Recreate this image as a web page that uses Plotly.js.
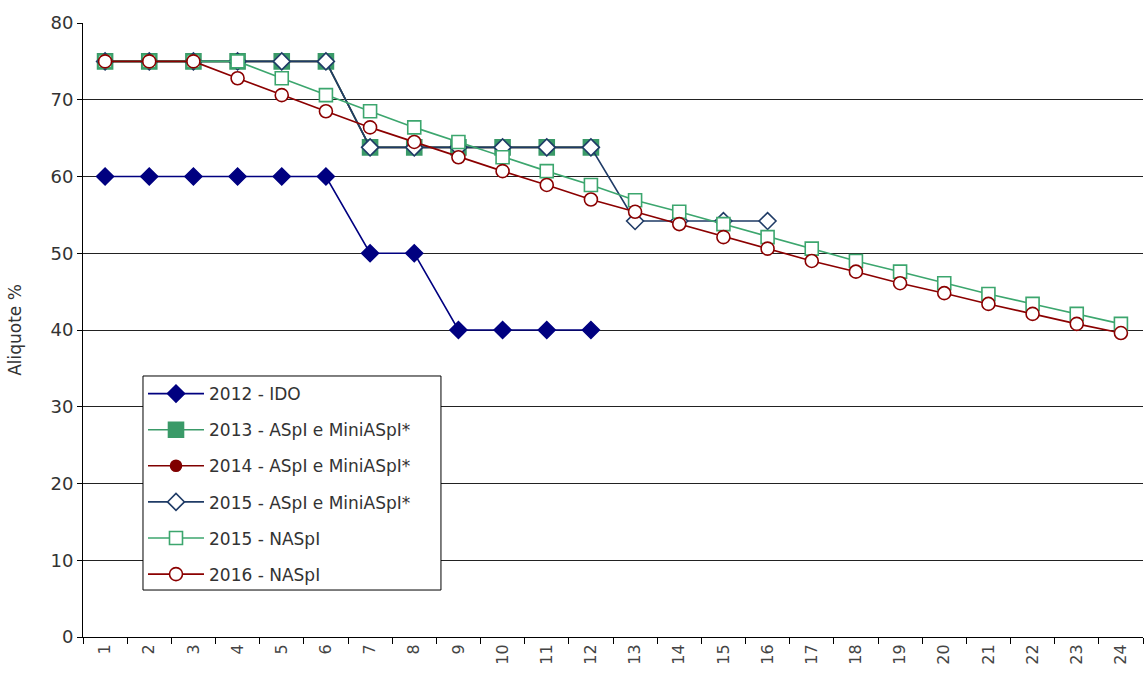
<!DOCTYPE html>
<html>
<head>
<meta charset="utf-8">
<script src="https://cdn.plot.ly/plotly-3.0.1.min.js"></script>
<style>html,body{margin:0;padding:0;background:#fff;}#chart{width:1145px;height:675px;}</style>
</head>
<body>
<div id="chart"></div>
<script>
const months = ["1","2","3","4","5","6","7","8","9","10","11","12","13","14","15","16","17","18","19","20","21","22","23","24"];
const ido2012 = [60,60,60,60,60,60,50,50,40,40,40,40];
const aspi2013 = [75,75,75,75,75,75,63.8,63.8,63.8,63.8,63.8,63.8];
const aspi2014 = [75,75,75,75,75,75,63.8,63.8,63.8,63.8,63.8,63.8];
const aspi2015 = [75,75,75,75,75,75,63.8,63.8,63.8,63.8,63.8,63.8,54.2,54.2,54.2,54.2];
const naspi2015 = [75,75,75,75,72.8,70.6,68.5,66.4,64.5,62.5,60.7,58.9,56.9,55.4,53.8,52.1,50.6,49.0,47.6,46.1,44.7,43.4,42.1,40.8];
const naspi2016 = [75,75,75,72.8,70.6,68.5,66.4,64.5,62.5,60.7,58.9,57.0,55.4,53.8,52.1,50.6,49.0,47.6,46.1,44.8,43.4,42.1,40.8,39.6];
const seriesNames = ["2012 - IDO","2013 - ASpI e MiniASpI*","2014 - ASpI e MiniASpI*","2015 - ASpI e MiniASpI*","2015 - NASpI","2016 - NASpI"];

function mk(vals, name, rank, lineColor, symbol, mColor, mLine, size) {
  return {
    x: months.slice(0, vals.length), y: vals, name: name, type: 'scatter', mode: 'lines+markers',
    legendrank: rank, legendgroup: 'g' + rank,
    line: {color: lineColor, width: 1.6},
    marker: {symbol: symbol, size: size, color: mColor, line: {color: mLine, width: 1.6}}
  };
}
const traces = [
  mk(ido2012, seriesNames[0], 1, '#000080', 'diamond', '#000080', '#000080', 13),
  mk(aspi2014, seriesNames[2], 3, '#800000', 'circle', '#800000', '#800000', 11),
  mk(aspi2013, seriesNames[1], 2, '#3A9A68', 'square', '#3A9A68', '#3A9A68', 15),
  mk(aspi2015, seriesNames[3], 4, '#1F3B66', 'diamond', '#ffffff', '#1F3B66', 13),
  mk(naspi2015, seriesNames[4], 5, '#3CA66E', 'square', '#ffffff', '#3CA66E', 13),
  mk(naspi2016, seriesNames[5], 6, '#8B0000', 'circle', '#ffffff', '#8B0000', 13)
];
const layout = {
  width: 1145, height: 675,
  margin: {l: 83, r: 2, t: 23, b: 38},
  paper_bgcolor: '#fff', plot_bgcolor: '#fff',
  font: {family: 'DejaVu Sans, Verdana, sans-serif', size: 17, color: '#333'},
  showlegend: true,
  legend: {
    x: 0.0566, y: 0.425, xanchor: 'left', yanchor: 'top',
    borderwidth: 0, bgcolor: 'rgba(0,0,0,0)',
    traceorder: 'grouped', tracegroupgap: 11, itemwidth: 56,
    font: {family: 'DejaVu Sans, Verdana, sans-serif', size: 17, color: '#333'}
  },
  shapes: [{
    type: 'rect', xref: 'paper', yref: 'paper', layer: 'above',
    x0: 0.0566, x1: 0.3377, y0: 0.0765, y1: 0.4251,
    line: {color: '#000', width: 1}, fillcolor: '#fff'
  }],
  xaxis: {
    type: 'category', range: [-0.5, 23.5], tickson: 'boundaries', ticks: 'outside', ticklen: 6,
    tickcolor: '#000', showline: true, linecolor: '#000', linewidth: 1, showgrid: false,
    tickangle: -90, tickfont: {size: 16, color: '#444'}, zeroline: false, fixedrange: true
  },
  yaxis: {
    range: [0, 80], dtick: 10, ticks: 'outside', ticklen: 5, tickcolor: '#000',
    showline: true, linecolor: '#000', linewidth: 1, showgrid: true, gridcolor: '#222', gridwidth: 1,
    zeroline: false, tickfont: {size: 18, color: '#333'},
    title: {text: 'Aliquote %', font: {size: 17, color: '#333'}, standoff: 24}
  }
};
Plotly.newPlot('chart', traces, layout, {displayModeBar: false, staticPlot: true});
</script>
</body>
</html>
